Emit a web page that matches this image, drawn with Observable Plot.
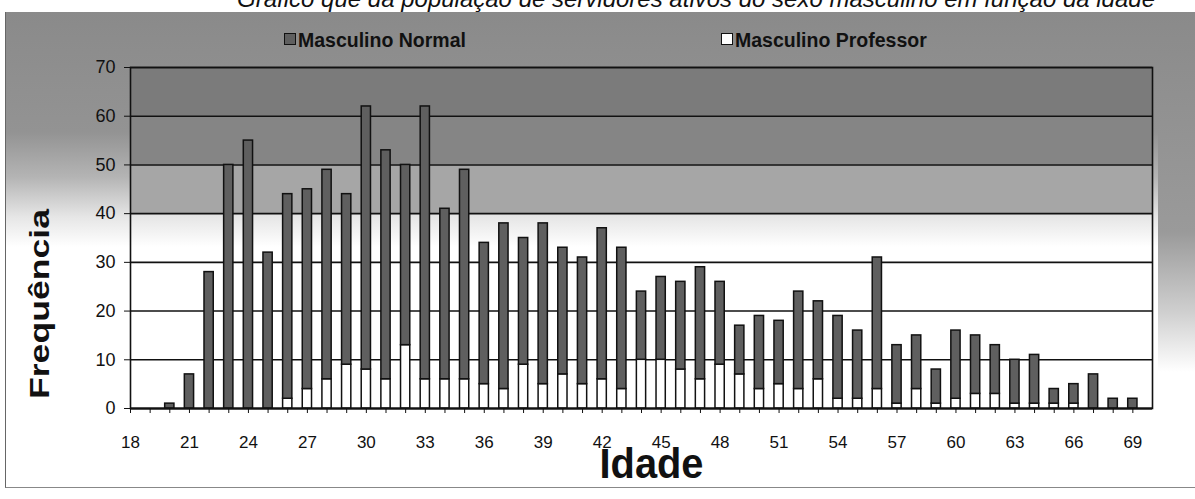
<!DOCTYPE html>
<html>
<head>
<meta charset="utf-8">
<script src="https://cdn.jsdelivr.net/npm/d3@7"></script>
<script src="https://cdn.jsdelivr.net/npm/@observablehq/plot@0.6"></script>
<style>
  html, body { margin: 0; padding: 0; background: #fff; }
  #wrap { position: relative; width: 1195px; height: 499px; overflow: hidden;
          font-family: "Liberation Sans", Arial, sans-serif; }
  #bg { position: absolute; left: 5px; top: 12px; width: 1190px; height: 476px;
        border-left: 1.5px solid #666; border-bottom: 1.5px solid #888; box-sizing: border-box;
        background: linear-gradient(to bottom, #8a8a8a 0px, #939393 120px, #b4b4b4 165px, #e6e6e6 205px, #ffffff 235px); }
  #rightstrip { position: absolute; left: 1158px; top: 12px; width: 37px; height: 400px;
        background: linear-gradient(to bottom, #8a8a8a 0px, #9a9a9a 220px, #cfcfcf 300px, rgba(255,255,255,0) 360px); }
  #title { position: relative; height: 12px; overflow: hidden; }
  #title span { position: absolute; right: 40px; top: -13px; font-style: italic; font-size: 24px;
                line-height: 24px; white-space: nowrap; color: #111; }
  #legend { position: relative; height: 45px; }
  .item { position: absolute; top: 17px; font-size: 19.5px; font-weight: bold; line-height: 22px; color: #111; }
  .sw { display: inline-block; width: 10px; height: 10px; border: 1.5px solid #111; margin-right: 2px; vertical-align: 2px; }
  #chart { position: relative; }
</style>
</head>
<body>
<div id="wrap">
  <div id="bg"></div>
  <div id="rightstrip"></div>
  <div id="title"><span>Gráfico que dá população de servidores ativos do sexo masculino em função da idade</span></div>
  <div id="legend"></div>
  <div id="chart"></div>
</div>
<script>
// ---- data ----
const ages = [18,19,20,21,22,23,24,25,26,27,28,29,30,31,32,33,34,35,36,37,38,39,40,41,42,43,
              44,45,46,47,48,49,50,51,52,53,54,55,56,57,58,59,60,61,62,63,64,65,66,67,68,69];
const normal = [0,0,1,7,28,50,55,32,42,41,43,35,54,47,37,56,35,43,29,34,26,33,26,26,31,29,
                14,17,18,23,17,10,15,13,20,16,17,14,27,12,11,7,14,12,10,9,10,3,4,7,2,2];
const professor = [0,0,0,0,0,0,0,0,2,4,6,9,8,6,13,6,6,6,5,4,9,5,7,5,6,4,
                   10,10,8,6,9,7,4,5,4,6,2,2,4,1,4,1,2,3,3,1,1,1,1,0,0,0];
const seriesNames = ["Masculino Normal", "Masculino Professor"];
const xTickLabels = [18,21,24,27,30,33,36,39,42,45,48,51,54,57,60,63,66,69];
const yTicks = [0,10,20,30,40,50,60,70];
const xLabel = "Idade";
const yLabel = "Frequência";

// ---- build tables ----
const rows = [];
ages.forEach((a, i) => {
  rows.push({age: a, series: seriesNames[1], y1: 0, y2: professor[i]});
  rows.push({age: a, series: seriesNames[0], y1: professor[i], y2: professor[i] + normal[i]});
});
const bandShade = {70: "#7b7b7b", 60: "#858585", 50: "#a6a6a6"};
const bands = yTicks.slice(1).filter(t => bandShade[t]).map(t => ({lo: t - 10, hi: t, shade: bandShade[t]}));
const colors = {"Masculino Normal": "#5f5f5f", "Masculino Professor": "#ffffff"};

// ---- legend ----
const legend = document.getElementById("legend");
[[seriesNames[0], 284], [seriesNames[1], 721]].forEach(([name, left]) => {
  const it = document.createElement("div");
  it.className = "item";
  it.style.left = left + "px";
  it.innerHTML = `<span class="sw" style="background:${colors[name]}"></span>${name}`;
  legend.appendChild(it);
});

// ---- chart ----
const chart = Plot.plot({
  width: 1195,
  height: 442,
  marginLeft: 130,
  marginRight: 43,
  marginTop: 10,
  marginBottom: 91,
  style: {background: "transparent", fontFamily: "'Liberation Sans', Arial, sans-serif", color: "#111", overflow: "visible"},
  x: {type: "linear", domain: [18, 70], axis: null},
  y: {domain: [0, 70], axis: null},
  marks: [
    Plot.rect(bands, {y1: "lo", y2: "hi", fill: "shade"}),
    Plot.gridY(yTicks, {stroke: "#111", strokeOpacity: 1, strokeWidth: 1.6}),
    Plot.frame({stroke: "#111", strokeWidth: 1.6}),
    Plot.rectY(rows, {
      x1: d => d.age - 0.5, x2: d => d.age + 0.5, y1: "y1", y2: "y2",
      fill: d => colors[d.series], stroke: "#111", strokeWidth: 1.5,
      insetLeft: 5.2, insetRight: 5.2
    }),
    Plot.ruleY([0], {stroke: "#111", strokeWidth: 2.2}),
    Plot.axisY(yTicks, {tickSize: 6, tickPadding: 9, fontSize: 18, label: null, stroke: "#111"}),
    Plot.axisX(ages, {tickSize: 5, tickFormat: () => "", label: null, stroke: "#111"}),
    Plot.axisX(xTickLabels, {tickSize: 0, tickPadding: 27, fontSize: 17, label: null}),
    Plot.text([yLabel], {text: d => d, frameAnchor: "left", rotate: -90, textAnchor: "start", dx: -90, dy: 161,
                         fontSize: 28, fontWeight: "bold", fill: "#111", className: "ylab"}),
    Plot.text([xLabel], {text: d => d, frameAnchor: "bottom", textAnchor: "start", lineAnchor: "bottom", dx: -42, dy: 69,
                         fontSize: 43, fontWeight: "bold", fill: "#111", className: "xlab"})
  ]
});
document.getElementById("chart").appendChild(chart);
// stretch the big labels like the scanned original
d3.select(chart).selectAll(".ylab text").attr("textLength", 190).attr("lengthAdjust", "spacingAndGlyphs");
d3.select(chart).selectAll(".xlab text").attr("textLength", 104).attr("lengthAdjust", "spacingAndGlyphs");
</script>
</body>
</html>
